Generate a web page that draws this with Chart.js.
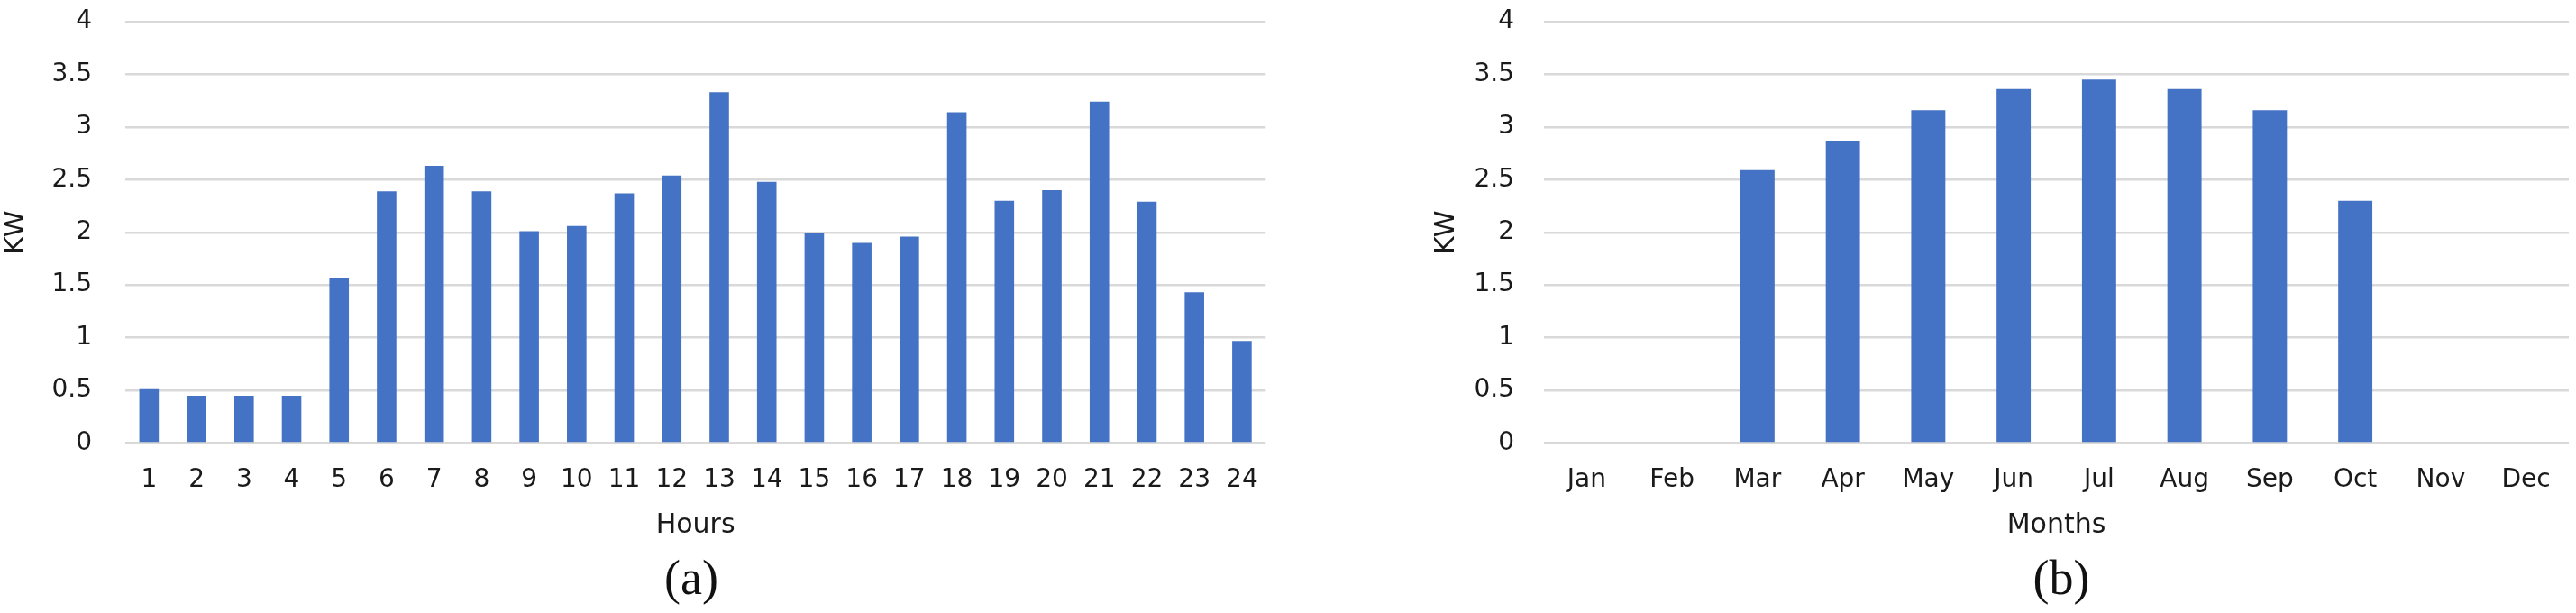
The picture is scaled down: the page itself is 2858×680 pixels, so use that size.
<!DOCTYPE html>
<html>
<head>
<meta charset="utf-8">
<script src="https://cdn.jsdelivr.net/npm/chart.js@4.4.1/dist/chart.umd.min.js"></script>
<style>
    html, body { margin: 0; padding: 0; background: #fff; }
    body { position: relative; width: 2858px; height: 680px; overflow: hidden; }
    #chart-a { position: absolute; left: 0; top: 0; }
    #chart-b { position: absolute; left: 1587px; top: 0; }
    .caption {
        position: absolute; top: 614px; width: 200px; height: 54px; line-height: 54px;
        text-align: center; font-family: "Liberation Serif", serif; font-size: 54px; color: #111;
    }
</style>
</head>
<body>
<canvas id="chart-a" width="1420" height="610"></canvas>
<canvas id="chart-b" width="1271" height="610"></canvas>
<div class="caption" style="left:667px">(a)</div>
<div class="caption" style="left:2187px">(b)</div>
<script>
// values
const hourLabels = ['1', '2', '3', '4', '5', '6', '7', '8', '9', '10', '11', '12',
    '13', '14', '15', '16', '17', '18', '19', '20', '21', '22', '23', '24'];
const hourlyKW = [0.52, 0.45, 0.45, 0.45, 1.57, 2.39, 2.63, 2.39, 2.01, 2.06, 2.37, 2.54,
    3.33, 2.48, 1.99, 1.90, 1.96, 3.14, 2.30, 2.40, 3.24, 2.29, 1.43, 0.97];

const monthLabels = ['Jan', 'Feb', 'Mar', 'Apr', 'May', 'Jun', 'Jul', 'Aug', 'Sep', 'Oct', 'Nov', 'Dec'];
const monthlyKW = [0, 0, 2.59, 2.87, 3.16, 3.36, 3.45, 3.36, 3.16, 2.30, 0, 0];

const barColor = '#4472c4';
const gridColor = '#d9d9d9';
const textColor = '#1a1a1a';

Chart.defaults.font.family = '"DejaVu Sans", sans-serif';
Chart.defaults.color = textColor;

const makeChart = (id, labels, values, xTitle, yWidth, yGap, rightPad, barPct) => {
    const ctx = document.getElementById(id);
    return new Chart(ctx, {
        type: 'bar',
        data: {
            labels: labels,
            datasets: [{
                label: 'KW',
                data: values,
                backgroundColor: barColor,
                borderWidth: 0,
                barPercentage: barPct,
                categoryPercentage: 1,
            }]
        },
        options: {
            responsive: false,
            animation: false,
            devicePixelRatio: 1,
            layout: { padding: { top: 24, bottom: 9, left: 0, right: rightPad } },
            scales: {
                x: {
                    grid: { display: false, drawTicks: false },
                    border: { display: false },
                    ticks: {
                        autoSkip: false, maxRotation: 0, padding: 24,
                        font: { size: 28 }, color: textColor,
                    },
                    title: {
                        display: true, text: xTitle, color: textColor,
                        font: { size: 30 }, padding: { top: 0, bottom: 0 },
                    },
                    // fixed height: tick labels then axis title
                    afterFit: (scale) => { scale.height = 109.5; },
                },
                y: {
                    min: 0,
                    max: 4,
                    grid: { color: gridColor, lineWidth: 2.5, drawTicks: false },
                    border: { display: false },
                    ticks: {
                        stepSize: 0.5, padding: yGap,
                        font: { size: 28 }, color: textColor,
                        callback: (v) => v,
                    },
                    title: {
                        display: true, text: 'KW', color: textColor,
                        font: { size: 30 }, padding: { top: 0, bottom: 0 },
                    },
                    afterFit: (scale) => {
                        scale.width = yWidth;
                        // tick padding would otherwise push the plot down
                        scale.paddingTop = 0;
                        scale.paddingBottom = 0;
                    },
                },
            },
            plugins: {
                legend: { display: false },
                tooltip: { enabled: false },
            },
        },
    });
};

makeChart('chart-a', hourLabels, hourlyKW, 'Hours', 139, 37, 14, 0.41);
makeChart('chart-b', monthLabels, monthlyKW, 'Months', 126, 33, 8, 0.40);
</script>
</body>
</html>
